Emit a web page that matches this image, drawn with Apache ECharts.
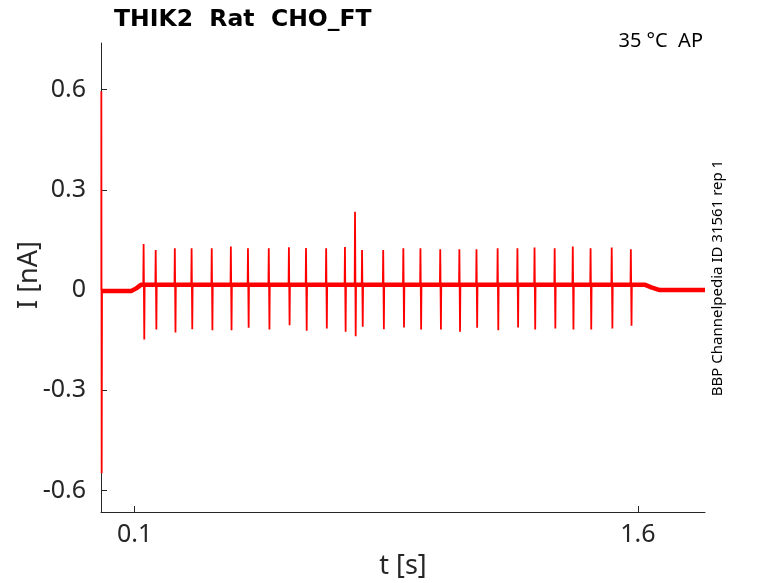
<!DOCTYPE html>
<html>
<head>
<meta charset="utf-8">
<script src="https://cdn.jsdelivr.net/npm/echarts@6/dist/echarts.min.js"></script>
<style>
  html, body { margin: 0; padding: 0; background: #fff; }
  #chart { width: 778px; height: 583px; }
</style>
</head>
<body>
<div id="chart"></div>
<script>
// baseline level of the current trace (nA)
const baseT = [0.000, 0.090, 0.105, 0.120, 1.620, 1.640, 1.665, 1.800]
const baseI = [-0.003, -0.003, 0.005, 0.016, 0.016, 0.008, 0.000, 0.000]

// capacitive transient at the very start
const startT = 0.001
const startUp = 0.595
const startDown = -0.548

// spikes during the AP train
const spikeBase = 0.016
const spikeT = [0.127, 0.163, 0.220, 0.270, 0.330, 0.387, 0.438, 0.500, 0.560, 0.611,
  0.671, 0.727, 0.757, 0.778, 0.841, 0.901, 0.952, 1.011, 1.068, 1.119,
  1.182, 1.241, 1.292, 1.352, 1.406, 1.459, 1.522, 1.579]
const spikeUp = [0.138, 0.120, 0.125, 0.125, 0.125, 0.130, 0.125, 0.125, 0.128, 0.126,
  0.125, 0.129, 0.234, 0.120, 0.120, 0.125, 0.125, 0.122, 0.122, 0.122,
  0.125, 0.125, 0.127, 0.125, 0.130, 0.125, 0.127, 0.122]
const spikeDown = [-0.148, -0.118, -0.127, -0.117, -0.120, -0.120, -0.113, -0.118, -0.105, -0.122,
  -0.115, -0.125, -0.138, -0.110, -0.117, -0.112, -0.118, -0.118, -0.125, -0.113,
  -0.120, -0.112, -0.118, -0.115, -0.118, -0.118, -0.115, -0.107]

// axis ticks
const xTicks = [0.1, 1.6]
const yTicks = [-0.6, -0.3, 0, 0.3, 0.6]

const axisColor = '#262626'
const textFont = '"Noto Sans", "Open Sans", sans-serif'

// NOTE - build series data
const baseData = baseT.map((t, i) => [t, baseI[i]])
const spikeData = [[startT, 0], [startT, startUp], [startT + 0.001, startDown], [startT + 0.002, 0], ['-', '-']]
spikeT.forEach((t, i) => {
  spikeData.push([t - 0.001, spikeBase])
  spikeData.push([t, spikeUp[i]])
  spikeData.push([t + 0.002, spikeDown[i]])
  spikeData.push([t + 0.003, spikeBase])
  spikeData.push(['-', '-'])
})

const myChart = echarts.init(document.querySelector('#chart'))
const option = {
  animation: false,
  grid: {
    left: 101,
    right: 73,
    top: 43,
    bottom: 71,
  },
  xAxis: {
    type: 'value',
    min: 0,
    max: 1.8,
    axisLine: {
      onZero: false,
      lineStyle: { color: axisColor, width: 1 },
    },
    axisTick: {
      inside: true,
      length: 6,
      customValues: xTicks,
      lineStyle: { color: axisColor },
    },
    axisLabel: {
      customValues: xTicks,
      margin: 10,
      fontSize: 25,
      fontFamily: textFont,
      color: axisColor,
    },
    splitLine: { show: false },
  },
  yAxis: {
    type: 'value',
    min: -0.664,
    max: 0.739,
    axisLine: {
      show: true,
      onZero: false,
      lineStyle: { color: axisColor, width: 1 },
    },
    axisTick: {
      show: true,
      inside: true,
      length: 6,
      customValues: yTicks,
      lineStyle: { color: axisColor },
    },
    axisLabel: {
      customValues: yTicks,
      margin: 15,
      fontSize: 25,
      fontFamily: textFont,
      color: axisColor,
      formatter: v => (v === 0 ? '0' : v.toFixed(1)),
    },
    splitLine: { show: false },
  },
  graphic: [
    {
      type: 'text',
      left: 114,
      top: 8,
      style: {
        text: 'THIK2  Rat  CHO_FT',
        font: 'bold 23.5px "DejaVu Sans", sans-serif',
        fill: '#000',
      },
    },
    {
      type: 'text',
      x: 703,
      y: 41,
      style: {
        text: '35 °C  AP',
        font: '20px ' + textFont,
        fill: '#000',
        align: 'right',
        verticalAlign: 'middle',
      },
    },
    {
      type: 'text',
      x: 718,
      y: 278,
      rotation: Math.PI / 2,
      style: {
        text: 'BBP Channelpedia ID 31561 rep 1',
        font: '15px ' + textFont,
        fill: '#000',
        align: 'center',
        verticalAlign: 'middle',
      },
    },
    {
      type: 'text',
      x: 29,
      y: 275,
      rotation: Math.PI / 2,
      style: {
        text: 'I [nA]',
        font: '27px ' + textFont,
        fill: axisColor,
        align: 'center',
        verticalAlign: 'middle',
      },
    },
    {
      type: 'text',
      x: 403,
      y: 566,
      style: {
        text: 't [s]',
        font: '27px ' + textFont,
        fill: axisColor,
        align: 'center',
        verticalAlign: 'middle',
      },
    },
  ],
  series: [
    {
      name: 'baseline',
      type: 'line',
      data: baseData,
      showSymbol: false,
      lineStyle: { color: '#ff0000', width: 4.5 },
      z: 3,
    },
    {
      name: 'spikes',
      type: 'line',
      data: spikeData,
      showSymbol: false,
      connectNulls: false,
      lineStyle: { color: '#ff0000', width: 1.8 },
      z: 3,
    },
  ],
}
myChart.setOption(option)
</script>
</body>
</html>
